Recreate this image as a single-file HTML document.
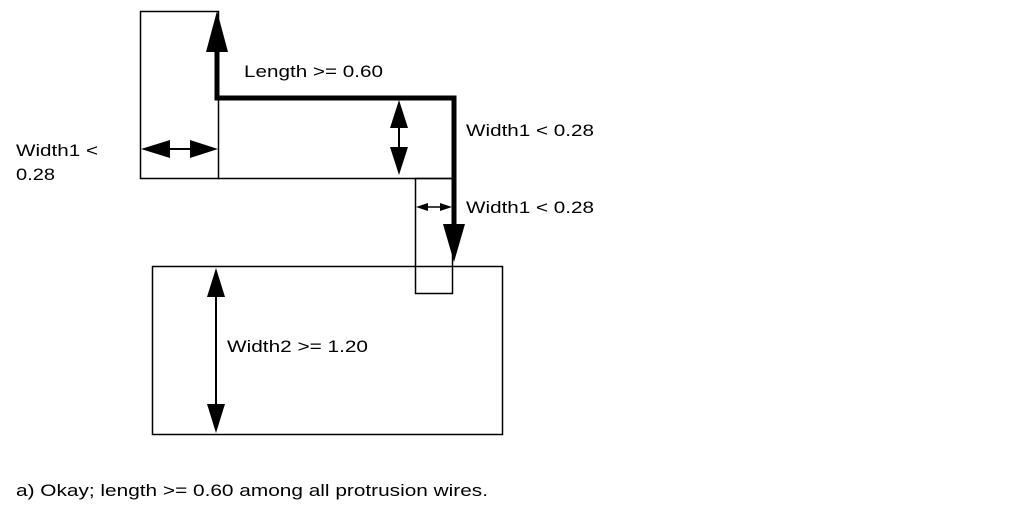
<!DOCTYPE html>
<html><head><style>
body{margin:0;background:#fff;}
svg{display:block;font-family:"Liberation Sans",sans-serif;}
</style></head><body>
<svg width="1013" height="518" xmlns="http://www.w3.org/2000/svg">
<g fill="none" stroke="#000" stroke-width="1.5">
<rect x="140.5" y="11.5" width="78" height="167"/>
<line x1="218" y1="178.5" x2="452" y2="178.5"/>
<rect x="415.5" y="178.5" width="37" height="115"/>
<rect x="152.5" y="266.5" width="350" height="168"/>
</g>
<polyline points="217,50 217,98 454,98 454,228" fill="none" stroke="#000" stroke-width="5"/>
<polygon points="217,11 206,52 228,52" fill="#000"/>
<polygon points="454,262 443,224 465,224" fill="#000"/>
<line x1="165" y1="149" x2="195" y2="149" stroke="#000" stroke-width="2"/>
<polygon points="141,149 170,140 170,158" fill="#000"/>
<polygon points="218,149 190,140 190,158" fill="#000"/>
<line x1="399" y1="120" x2="399" y2="155" stroke="#000" stroke-width="2"/>
<polygon points="399,100 390,128 408,128" fill="#000"/>
<polygon points="399,175 390,147 408,147" fill="#000"/>
<line x1="420" y1="207" x2="448" y2="207" stroke="#000" stroke-width="1.5"/>
<polygon points="416,207 428,203 428,211" fill="#000"/>
<polygon points="452,207 440,203 440,211" fill="#000"/>
<line x1="216" y1="290" x2="216" y2="410" stroke="#000" stroke-width="2"/>
<polygon points="216,268 207,297 225,297" fill="#000"/>
<polygon points="216,433 207,404 225,404" fill="#000"/>
<g font-size="17" fill="#000" lengthAdjust="spacingAndGlyphs">
<text x="244" y="77" textLength="139" lengthAdjust="spacingAndGlyphs">Length &gt;= 0.60</text>
<text x="466" y="136" textLength="128" lengthAdjust="spacingAndGlyphs">Width1 &lt; 0.28</text>
<text x="466" y="213" textLength="128" lengthAdjust="spacingAndGlyphs">Width1 &lt; 0.28</text>
<text x="16" y="156" textLength="82" lengthAdjust="spacingAndGlyphs">Width1 &lt;</text>
<text x="16" y="180" textLength="39" lengthAdjust="spacingAndGlyphs">0.28</text>
<text x="227" y="352" textLength="141" lengthAdjust="spacingAndGlyphs">Width2 &gt;= 1.20</text>
<text x="16" y="496" textLength="472" lengthAdjust="spacingAndGlyphs">a) Okay; length &gt;= 0.60 among all protrusion wires.</text>
</g>
</svg>
</body></html>
